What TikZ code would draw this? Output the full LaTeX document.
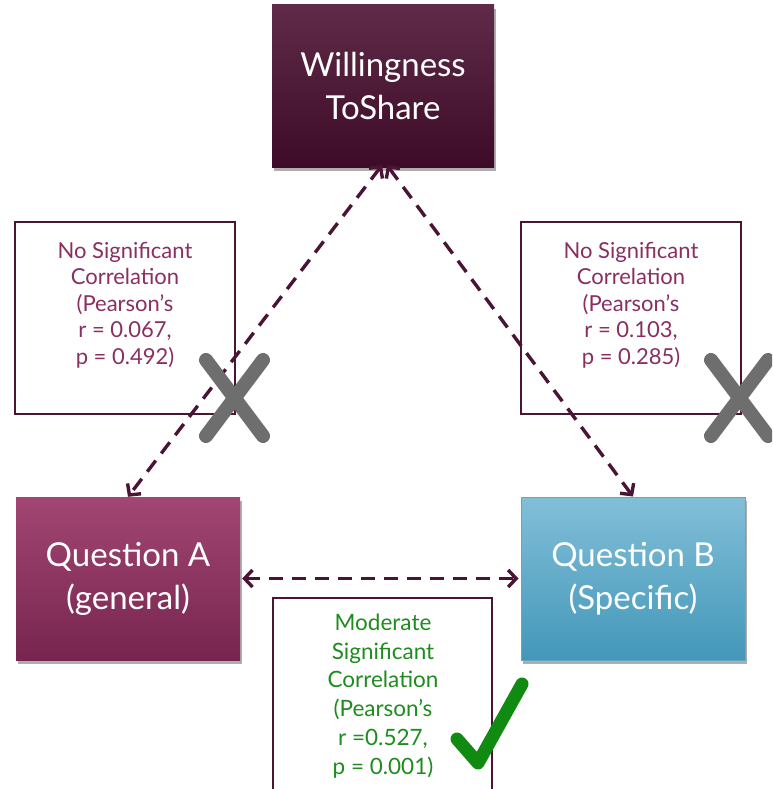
\documentclass[tikz,border=0pt]{standalone}
\usepackage{fontspec}
\setmainfont{Lato}
\usetikzlibrary{shadows,arrows.meta}
\definecolor{wtop}{HTML}{5F2B48}
\definecolor{wbot}{HTML}{3D0B27}
\definecolor{atop}{HTML}{A24672}
\definecolor{abot}{HTML}{772550}
\definecolor{btop}{HTML}{82BFD8}
\definecolor{bbot}{HTML}{4397B9}
\definecolor{bline}{HTML}{5AAAC8}
\definecolor{lblline}{HTML}{4A1535}
\definecolor{lbltext}{HTML}{8A2F62}
\definecolor{grtext}{HTML}{1E8C1E}
\definecolor{chk}{HTML}{118A11}
\definecolor{xgray}{HTML}{6E6E6E}
\definecolor{arr}{HTML}{4A1535}
\tikzset{
  bigbox/.style={rectangle, minimum width=222pt, minimum height=162pt, inner sep=0pt,
    text=white, align=center, font=\fontsize{33}{43}\selectfont,
    drop shadow={shadow xshift=2pt, shadow yshift=-4pt, opacity=0.45, fill=black!70}},
  lblbox/.style={rectangle, draw=lblline, line width=1.8pt, fill=white, inner sep=0pt},
  lbltxt/.style={align=center, text=lbltext, font=\fontsize{22}{26.5}\selectfont, inner sep=0pt},
  grtxt/.style={align=center, text=grtext, font=\fontsize{22.5}{28.8}\selectfont, inner sep=0pt},
  conn/.style={draw=arr, line width=3.4pt, dash pattern=on 14pt off 9pt,
    {Straight Barb[length=8pt,width=17pt,line width=3.4pt]}-{Straight Barb[length=8pt,width=17pt,line width=3.4pt]}},
  xmark/.style={draw=xgray, line width=14pt, line cap=round},
  chkmark/.style={draw=chk, line width=13pt, line cap=round, line join=round}
}
\begin{document}
\begin{tikzpicture}[x=1pt,y=-1pt]
\useasboundingbox (0,0) rectangle (772,789);
\clip (0,0) rectangle (772,789);
% label boxes
\node[lblbox, minimum width=220pt, minimum height=192pt] (lbox) at (125,318) {};
\node[lbltxt] (ltxt) at (125,305) {No Significant\\Correlation\\(Pearson’s\\r = 0.067,\\p = 0.492)};
\node[lblbox, minimum width=220pt, minimum height=192pt] (rbox) at (631,318) {};
\node[lbltxt] (rtxt) at (631,305) {No Significant\\Correlation\\(Pearson’s\\r = 0.103,\\p = 0.285)};
\node[lblbox, minimum width=219pt, minimum height=210pt] (bbox) at (382.5,703) {};
\node[grtxt] (btxt) at (383,696) {Moderate\\Significant\\Correlation\\(Pearson’s\\r =0.527,\\p = 0.001)};
% main boxes
\node[bigbox, top color=wtop, bottom color=wbot] (will) at (383,86) {Willingness\\ToShare};
\node[bigbox, minimum width=224pt, minimum height=163pt, top color=atop, bottom color=abot] (qa) at (128,578.5) {Question A\\(general)};
\node[bigbox, minimum width=224pt, minimum height=163pt, top color=btop, bottom color=bbot, draw=bline, line width=1pt] (qb) at (633,578.5) {Question B\\(Specific)};
% connectors
\draw[conn] ([xshift=-1pt,yshift=2pt]will.south) -- (qa.north);
\draw[conn] ([xshift=4pt,yshift=2pt]will.south) -- (qb.north);
\draw[conn] ([xshift=2pt]qa.east) -- ([xshift=-2pt]qb.west);
% cross marks
\coordinate (xl1) at (206,360); \coordinate (xl2) at (263,436);
\coordinate (xl3) at (263,360); \coordinate (xl4) at (206,436);
\draw[xmark] (xl1) -- (xl2);
\draw[xmark] (xl3) -- (xl4);
\coordinate (xr1) at (711,360); \coordinate (xr2) at (768,436);
\coordinate (xr3) at (768,360); \coordinate (xr4) at (711,436);
\draw[xmark] (xr1) -- (xr2);
\draw[xmark] (xr3) -- (xr4);
% check mark
\coordinate (c1) at (457,739); \coordinate (c2) at (478,763); \coordinate (c3) at (522,684);
\draw[chkmark] (c1) -- (c2) -- (c3);
\end{tikzpicture}
\end{document}
